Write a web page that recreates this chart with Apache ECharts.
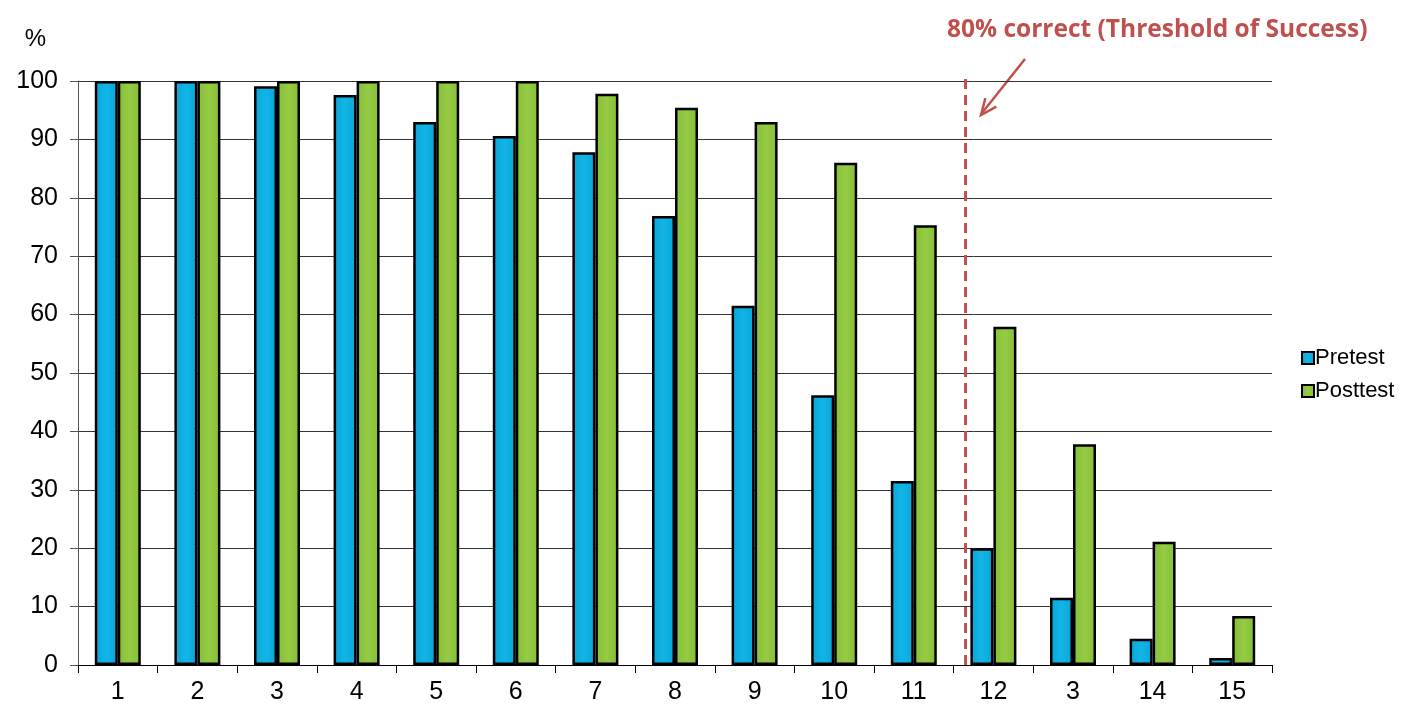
<!DOCTYPE html>
<html>
<head>
<meta charset="utf-8">
<script src="https://cdn.jsdelivr.net/npm/echarts@6/dist/echarts.min.js"></script>
<style>html,body{margin:0;padding:0;background:#fff;}#c{width:1413px;height:707px;}</style>
</head>
<body>
<div id="c"></div>
<script>
const categories = ['1','2','3','4','5','6','7','8','9','10','11','12','3','14','15'];
const pretest  = [100, 100, 99.1, 97.6, 93.0, 90.6, 87.8, 76.9, 61.5, 46.2, 31.5, 20.0, 11.5, 4.5, 1.2];
const posttest = [100, 100, 100, 100, 100, 100, 97.8, 95.4, 93.0, 86.0, 75.3, 57.9, 37.8, 21.1, 8.4];
const thresholdX = 11.15; // position of dashed threshold line on category scale (0..15)
const yTicks = [0, 10, 20, 30, 40, 50, 60, 70, 80, 90, 100];

const red = '#C0504D';
const chart = echarts.init(document.getElementById('c'));
const font = 'Liberation Sans, Arial, sans-serif';

chart.setOption({
  animation: false,
  backgroundColor: '#fff',
  grid: { left: 78, right: 141, top: 81, bottom: 42 },
  legend: {
    data: ['Pretest', 'Posttest'],
    orient: 'vertical',
    left: 1296,
    top: 342,
    icon: 'rect',
    itemWidth: 12,
    itemHeight: 12,
    itemGap: 11,
    textStyle: { fontFamily: font, fontSize: 22, color: '#000', padding: [0, 0, 0, -4] }
  },
  xAxis: [{
    type: 'category',
    data: categories,
    axisLine: { lineStyle: { color: '#000', width: 1 } },
    axisTick: { show: true, length: 8, lineStyle: { color: '#000' } },
    axisLabel: { fontFamily: font, fontSize: 25, color: '#000', margin: 15 }
  }, {
    type: 'value', min: 0, max: 15, show: false
  }],
  yAxis: {
    type: 'value',
    min: 0, max: 100, interval: 10,
    name: '%',
    nameLocation: 'end',
    nameGap: 30,
    nameTextStyle: { fontFamily: font, fontSize: 24, color: '#000', align: 'right', padding: [0, 32, 0, 0] },
    axisLine: { show: true, lineStyle: { color: '#555', width: 1 } },
    axisTick: { show: true, length: 8, lineStyle: { color: '#555' } },
    axisLabel: { fontFamily: font, fontSize: 25, color: '#000', margin: 20,
      formatter: v => yTicks.includes(v) ? String(v) : '' },
    splitLine: { lineStyle: { color: '#333', width: 1 } }
  },
  series: [{
    name: 'Pretest',
    type: 'bar',
    data: pretest,
    barWidth: 23,
    barGap: '0%',
    itemStyle: {
      color: new echarts.graphic.LinearGradient(0, 0, 1, 0, [
        { offset: 0, color: '#0AA6D8' }, { offset: 0.5, color: '#12B4E6' }, { offset: 1, color: '#0AA6D8' }
      ]),
      borderColor: '#000', borderWidth: 2.5
    }
  }, {
    name: 'Posttest',
    type: 'bar',
    data: posttest,
    barWidth: 23,
    barGap: '0%',
    itemStyle: {
      color: new echarts.graphic.LinearGradient(0, 0, 1, 0, [
        { offset: 0, color: '#86BE38' }, { offset: 0.5, color: '#96CB43' }, { offset: 1, color: '#86BE38' }
      ]),
      borderColor: '#000', borderWidth: 2.5
    }
  }, {
    name: 'Threshold',
    type: 'line',
    xAxisIndex: 1,
    data: [[thresholdX, 0], [thresholdX, 100.5]],
    symbol: 'none',
    clip: false,
    lineStyle: { color: red, width: 3, type: [10, 6] },
    z: 5
  }],
  graphic: [{
    type: 'text',
    left: 947,
    top: 18,
    style: { text: '80% correct (Threshold of Success)', fill: red,
      font: 'bold 24.5px "Open Sans", sans-serif' }
  }, {
    type: 'line',
    shape: { x1: 1025, y1: 59, x2: 982, y2: 113 },
    style: { stroke: red, lineWidth: 2.5 }
  }, {
    type: 'polyline',
    shape: { points: [[985.4, 98.1], [981, 115], [996.4, 106.7]] },
    style: { stroke: red, lineWidth: 2.5, fill: null }
  }]
});
</script>
</body>
</html>
